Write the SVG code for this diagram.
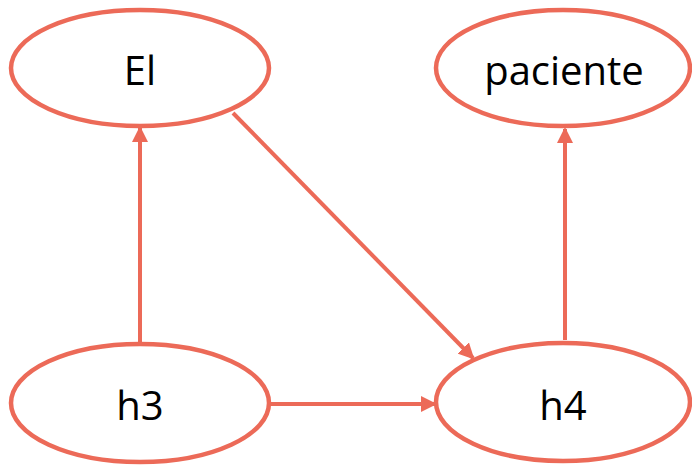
<svg xmlns="http://www.w3.org/2000/svg" width="692" height="465" viewBox="0 0 692 465">
<style>
.node ellipse{fill:#fff;stroke:#EC6A58;stroke-width:4.5}
.node text{font-family:"Open Sans","Liberation Sans",sans-serif;font-size:40px;fill:#000;text-anchor:middle}
.edge{stroke:#EC6A58;stroke-width:4;fill:none;marker-end:url(#ah)}
</style>
<defs>
<marker id="ah" markerUnits="userSpaceOnUse" markerWidth="16" markerHeight="16" refX="14" refY="8" orient="auto">
<path d="M0,0 L16,8 L0,16 Z" fill="#EC6A58"/>
</marker>
</defs>
<g id="connectors">
<line class="edge" x1="140" y1="342" x2="140" y2="128"/>
<line class="edge" x1="565" y1="340" x2="565" y2="129"/>
<line class="edge" x1="270" y1="404" x2="435" y2="404"/>
<line class="edge" x1="233" y1="113" x2="473" y2="358"/>
</g>
<g id="node-El" class="node">
<ellipse cx="140" cy="68" rx="129" ry="58"/>
<text x="140" y="85">El</text>
</g>
<g id="node-paciente" class="node">
<ellipse cx="563" cy="68" rx="127" ry="58"/>
<text x="564" y="85">paciente</text>
</g>
<g id="node-h3" class="node">
<ellipse cx="140" cy="403" rx="129" ry="59"/>
<text x="140" y="420">h3</text>
</g>
<g id="node-h4" class="node">
<ellipse cx="563" cy="402" rx="127" ry="59"/>
<text x="563" y="420">h4</text>
</g>
</svg>
